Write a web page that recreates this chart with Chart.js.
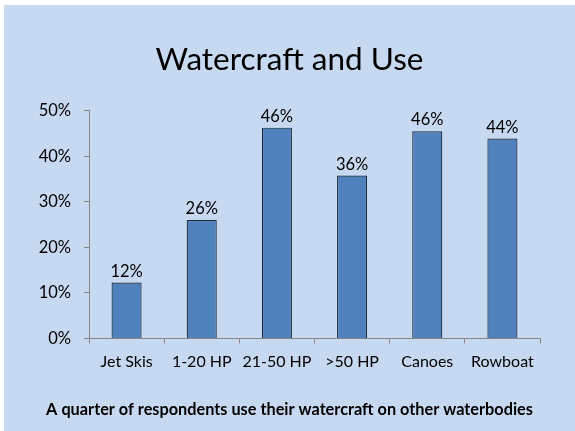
<!DOCTYPE html>
<html>
<head>
<meta charset="utf-8">
<script src="https://cdn.jsdelivr.net/npm/chart.js@4"></script>
<style>
  html, body { margin: 0; padding: 0; background: #ffffff; }
  #wrap { position: absolute; left: 4px; top: 5px; width: 571px; height: 426px; background: #c6d9f1; }
</style>
</head>
<body>
<div id="wrap"><canvas id="chart"></canvas></div>
<script>
// values
const categories = ['Jet Skis', '1-20 HP', '21-50 HP', '>50 HP', 'Canoes', 'Rowboat'];
const shares = [12.3, 26.0, 46.3, 35.8, 45.5, 43.9];
const yTicks = [0, 10, 20, 30, 40, 50];

const FONT = 'Lato, "Open Sans", sans-serif';

// draws the % labels above each bar
const valueLabels = {
    id: 'valueLabels',
    afterDatasetsDraw(chart) {
        const ctx = chart.ctx;
        const meta = chart.getDatasetMeta(0);
        ctx.save();
        ctx.font = '16.5px ' + FONT;
        ctx.fillStyle = '#000000';
        ctx.textAlign = 'center';
        ctx.textBaseline = 'bottom';
        meta.data.forEach((bar, i) => {
            ctx.fillText(Math.round(shares[i]) + '%', bar.x, bar.y - 3);
        });
        ctx.restore();
    }
};

new Chart(document.getElementById('chart'), {
    type: 'bar',
    data: {
        labels: categories,
        datasets: [{
            data: shares,
            backgroundColor: '#4f81bd',
            borderColor: '#1c2a3c',
            borderWidth: 1.2,
            borderSkipped: 'bottom',
            barPercentage: 0.4,
            categoryPercentage: 1.0
        }]
    },
    options: {
        responsive: true,
        maintainAspectRatio: false,
        animation: false,
        layout: { padding: 0 },
        plugins: {
            legend: { display: false },
            tooltip: { enabled: false },
            title: {
                display: true,
                text: 'Watercraft and Use',
                color: '#000000',
                font: { family: FONT, size: 31.5, weight: 'normal' },
                padding: { top: 36, bottom: 32 }
            },
            subtitle: {
                display: true,
                position: 'bottom',
                text: 'A quarter of respondents use their watercraft on other waterbodies',
                color: '#000000',
                font: { family: FONT, size: 16.3, weight: 'bold' },
                padding: { top: 22, bottom: 11 }
            }
        },
        scales: {
            x: {
                afterFit(scale) {
                    scale.height = 40;
                },
                grid: {
                    display: true,
                    drawOnChartArea: false,
                    drawTicks: true,
                    tickLength: 5,
                    color: '#868686',
                    offset: true
                },
                border: { color: '#868686', width: 1 },
                ticks: {
                    color: '#000000',
                    font: { family: FONT, size: 16 },
                    padding: 9,
                    maxRotation: 0
                }
            },
            y: {
                min: 0,
                max: 50,
                afterBuildTicks(scale) {
                    scale.ticks = yTicks.map(v => ({ value: v }));
                },
                afterFit(scale) {
                    scale.width = 85;
                },
                grid: {
                    display: true,
                    drawOnChartArea: false,
                    drawTicks: true,
                    tickLength: 5,
                    color: '#868686'
                },
                border: { color: '#868686', width: 1 },
                ticks: {
                    color: '#000000',
                    font: { family: FONT, size: 16.5 },
                    padding: 13,
                    callback: v => v + '%'
                }
            },
            // empty axis on the right, only to keep the plot off the right edge
            yRight: {
                type: 'linear',
                position: 'right',
                display: true,
                afterFit(scale) {
                    scale.width = 35;
                },
                grid: { display: false },
                border: { display: false },
                ticks: { display: false }
            }
        }
    },
    plugins: [valueLabels]
});
</script>
</body>
</html>
